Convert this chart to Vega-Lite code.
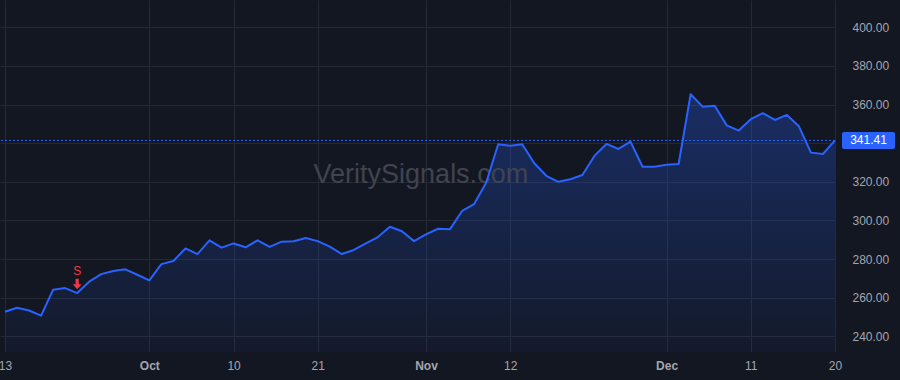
{
  "$schema": "https://vega.github.io/schema/vega-lite/v6.json",
  "width": 835,
  "height": 352,
  "autosize": {"type": "none"},
  "padding": {"left": 0, "top": 0, "right": 65, "bottom": 28},
  "background": "#131722",
  "config": {
    "view": {"stroke": null},
    "font": "Liberation Sans",
    "axis": {"labelFont": "Liberation Sans"}
  },
  "datasets": {
    "prices": [
      {"date": "2024-09-13", "i": 0, "close": 252.7},
      {"date": "2024-09-16", "i": 1, "close": 254.8},
      {"date": "2024-09-17", "i": 2, "close": 253.4},
      {"date": "2024-09-18", "i": 3, "close": 250.7},
      {"date": "2024-09-19", "i": 4, "close": 264.1},
      {"date": "2024-09-20", "i": 5, "close": 265.0},
      {"date": "2024-09-23", "i": 6, "close": 262.4},
      {"date": "2024-09-24", "i": 7, "close": 268.3},
      {"date": "2024-09-25", "i": 8, "close": 272.2},
      {"date": "2024-09-26", "i": 9, "close": 273.8},
      {"date": "2024-09-27", "i": 10, "close": 274.7},
      {"date": "2024-09-30", "i": 11, "close": 271.9},
      {"date": "2024-10-01", "i": 12, "close": 269.0},
      {"date": "2024-10-02", "i": 13, "close": 277.4},
      {"date": "2024-10-03", "i": 14, "close": 279.0},
      {"date": "2024-10-04", "i": 15, "close": 285.5},
      {"date": "2024-10-07", "i": 16, "close": 282.6},
      {"date": "2024-10-08", "i": 17, "close": 289.7},
      {"date": "2024-10-09", "i": 18, "close": 285.9},
      {"date": "2024-10-10", "i": 19, "close": 288.1},
      {"date": "2024-10-11", "i": 20, "close": 286.1},
      {"date": "2024-10-14", "i": 21, "close": 289.7},
      {"date": "2024-10-15", "i": 22, "close": 286.3},
      {"date": "2024-10-16", "i": 23, "close": 289.0},
      {"date": "2024-10-17", "i": 24, "close": 289.2},
      {"date": "2024-10-18", "i": 25, "close": 290.9},
      {"date": "2024-10-21", "i": 26, "close": 289.3},
      {"date": "2024-10-22", "i": 27, "close": 286.4},
      {"date": "2024-10-23", "i": 28, "close": 282.6},
      {"date": "2024-10-24", "i": 29, "close": 284.7},
      {"date": "2024-10-25", "i": 30, "close": 288.1},
      {"date": "2024-10-28", "i": 31, "close": 291.4},
      {"date": "2024-10-29", "i": 32, "close": 296.7},
      {"date": "2024-10-30", "i": 33, "close": 294.4},
      {"date": "2024-10-31", "i": 34, "close": 289.3},
      {"date": "2024-11-01", "i": 35, "close": 292.8},
      {"date": "2024-11-04", "i": 36, "close": 295.7},
      {"date": "2024-11-05", "i": 37, "close": 295.5},
      {"date": "2024-11-06", "i": 38, "close": 304.9},
      {"date": "2024-11-07", "i": 39, "close": 308.5},
      {"date": "2024-11-08", "i": 40, "close": 319.5},
      {"date": "2024-11-11", "i": 41, "close": 339.4},
      {"date": "2024-11-12", "i": 42, "close": 338.7},
      {"date": "2024-11-13", "i": 43, "close": 339.4},
      {"date": "2024-11-14", "i": 44, "close": 329.6},
      {"date": "2024-11-15", "i": 45, "close": 323.1},
      {"date": "2024-11-18", "i": 46, "close": 320.0},
      {"date": "2024-11-19", "i": 47, "close": 321.3},
      {"date": "2024-11-20", "i": 48, "close": 323.5},
      {"date": "2024-11-21", "i": 49, "close": 333.4},
      {"date": "2024-11-22", "i": 50, "close": 339.6},
      {"date": "2024-11-25", "i": 51, "close": 337.0},
      {"date": "2024-11-26", "i": 52, "close": 340.8},
      {"date": "2024-11-27", "i": 53, "close": 327.8},
      {"date": "2024-11-29", "i": 54, "close": 327.8},
      {"date": "2024-12-02", "i": 55, "close": 328.8},
      {"date": "2024-12-03", "i": 56, "close": 329.2},
      {"date": "2024-12-04", "i": 57, "close": 365.3},
      {"date": "2024-12-05", "i": 58, "close": 358.9},
      {"date": "2024-12-06", "i": 59, "close": 359.4},
      {"date": "2024-12-09", "i": 60, "close": 349.2},
      {"date": "2024-12-10", "i": 61, "close": 346.5},
      {"date": "2024-12-11", "i": 62, "close": 352.4},
      {"date": "2024-12-12", "i": 63, "close": 355.5},
      {"date": "2024-12-13", "i": 64, "close": 352.0},
      {"date": "2024-12-16", "i": 65, "close": 354.6},
      {"date": "2024-12-17", "i": 66, "close": 348.7},
      {"date": "2024-12-18", "i": 67, "close": 335.1},
      {"date": "2024-12-19", "i": 68, "close": 334.4},
      {"date": "2024-12-20", "i": 69, "close": 341.41}
    ],
    "signals": [
      {"date": "2024-09-23", "i": 6, "close": 262.4, "signal": "S"}
    ],
    "last": [
      {"date": "2024-12-20", "i": 69, "close": 341.41, "label": "341.41"}
    ]
  },
  "encoding": {
    "x": {
      "field": "i",
      "type": "quantitative",
      "scale": {"domain": [-0.416, 69], "nice": false, "zero": false},
      "axis": {
        "title": null,
        "values": [0, 12, 19, 26, 35, 42, 55, 62, 69],
        "labelExpr": "datum.value == 0 ? '13' : datum.value == 12 ? 'Oct' : datum.value == 19 ? '10' : datum.value == 26 ? '21' : datum.value == 35 ? 'Nov' : datum.value == 42 ? '12' : datum.value == 55 ? 'Dec' : datum.value == 62 ? '11' : '20'",
        "labelFontWeight": {"expr": "datum.value == 12 || datum.value == 35 || datum.value == 55 ? 'bold' : 'normal'"},
        "labelColor": "#a3a6af",
        "labelFontSize": 12,
        "labelPadding": 8,
        "labelBaseline": "top",
        "labelFlush": false,
        "labelOverlap": false,
        "ticks": false,
        "domain": false,
        "grid": true,
        "gridColor": "#252934",
        "gridWidth": 1
      }
    },
    "y": {
      "field": "close",
      "type": "quantitative",
      "scale": {"domain": [231.9, 414.1], "nice": false, "zero": false},
      "axis": {
        "title": null,
        "orient": "right",
        "values": [240, 260, 280, 300, 320, 340, 360, 380, 400],
        "format": ".2f",
        "labelAlign": "left",
        "labelPadding": 17,
        "labelColor": "#a3a6af",
        "labelFontSize": 12,
        "labelBaseline": "middle",
        "labelFlush": false,
        "labelOverlap": false,
        "ticks": false,
        "domain": false,
        "grid": true,
        "gridColor": "#252934",
        "gridWidth": 1
      }
    }
  },
  "layer": [
    {
      "data": {"name": "prices"},
      "mark": {
        "type": "area",
        "color": {
          "gradient": "linear",
          "x1": 0, "y1": 0, "x2": 0, "y2": 1,
          "stops": [
            {"offset": 0, "color": "rgba(41,98,255,0.30)"},
            {"offset": 1, "color": "rgba(41,98,255,0.04)"}
          ]
        }
      },
      "encoding": {"y2": {"datum": 231.9}}
    },
    {
      "data": {"values": [{"site": "VeritySignals.com"}]},
      "mark": {"type": "text", "font": "Liberation Sans", "fontSize": 27, "fill": "#40444f", "align": "center", "baseline": "alphabetic", "x": {"expr": "width * 0.504"}, "y": {"expr": "height * 0.519"}},
      "encoding": {
        "x": null,
        "y": null,
        "text": {"field": "site", "type": "nominal"}
      }
    },
    {
      "data": {"name": "last"},
      "mark": {"type": "rule", "color": "#2962ff", "strokeWidth": 1, "strokeDash": [2, 2]},
      "encoding": {"x": null}
    },
    {
      "data": {"name": "prices"},
      "mark": {"type": "line", "color": "#2962ff", "strokeWidth": 2, "strokeJoin": "round"}
    },
    {
      "data": {"name": "signals"},
      "mark": {"type": "point", "shape": "M-0.3,-1 L0.3,-1 L0.3,0.05 L0.85,0.05 L0,1 L-0.85,0.05 L-0.3,0.05 Z", "size": 110, "filled": true, "color": "#f23645", "opacity": 1, "yOffset": -9}
    },
    {
      "data": {"name": "signals"},
      "mark": {"type": "text", "color": "#f23645", "fontSize": 12, "dy": -22, "align": "center", "baseline": "middle"},
      "encoding": {"text": {"field": "signal"}}
    },
    {
      "data": {"name": "last"},
      "mark": {"type": "rect", "color": "#2962ff", "width": 53, "height": 17, "xOffset": 33.5, "cornerRadius": 2, "clip": false}
    },
    {
      "data": {"name": "last"},
      "mark": {"type": "text", "color": "#ffffff", "fontSize": 12, "dx": 33.5, "align": "center", "baseline": "middle", "clip": false},
      "encoding": {"text": {"field": "label"}}
    }
  ]
}
